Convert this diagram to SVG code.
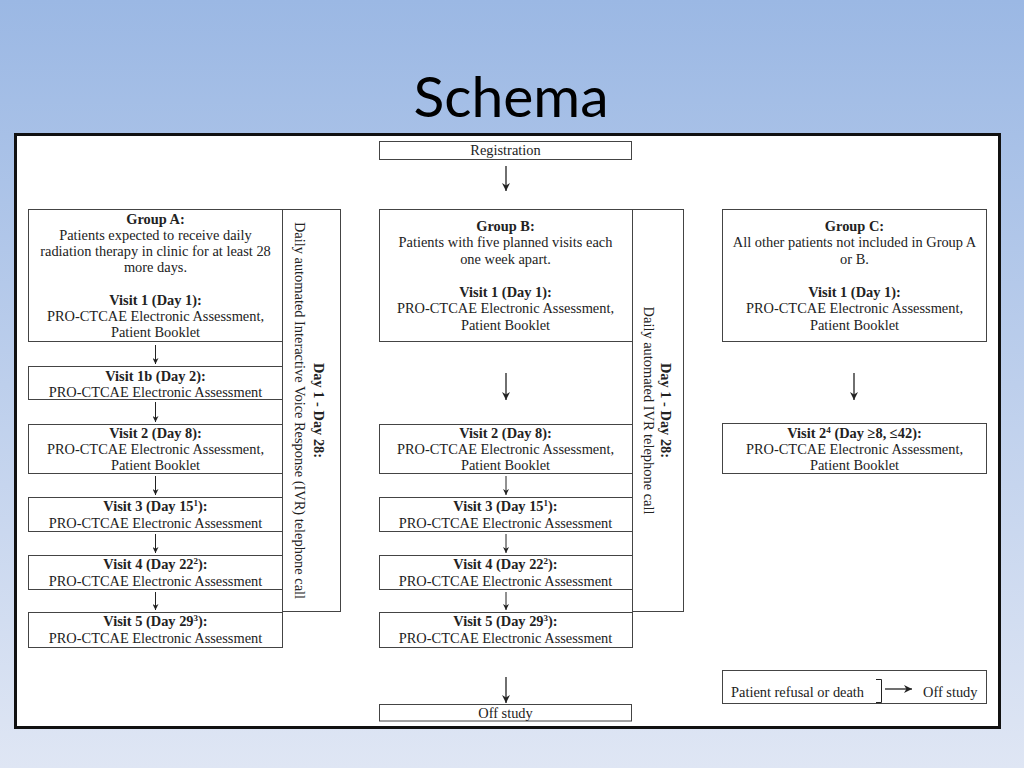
<svg xmlns="http://www.w3.org/2000/svg" width="1024" height="768" viewBox="0 0 1024 768">
<defs>
<linearGradient id="bg" x1="0" y1="0" x2="0" y2="1">
<stop offset="0" stop-color="#9bb8e4"/>
<stop offset="1" stop-color="#dfe6f4"/>
</linearGradient>
<marker id="ahs" viewBox="0 0 10 10" refX="10" refY="5" markerWidth="7" markerHeight="6" orient="auto" markerUnits="userSpaceOnUse">
<path d="M0,0 L10,5 L0,10 L3,5 z" fill="#222"/>
</marker>
<marker id="ahb" viewBox="0 0 10 10" refX="10" refY="5" markerWidth="10" markerHeight="8" orient="auto" markerUnits="userSpaceOnUse">
<path d="M0,0 L10,5 L0,10 L3,5 z" fill="#222"/>
</marker>
<style>
.box{fill:#fff;stroke:#444;stroke-width:1}
.t{font-family:"Liberation Serif","Times New Roman",serif;font-size:14.4px;fill:#222;text-anchor:middle}
.b{font-weight:bold}
.s{font-size:9px}
.ln{stroke:#222;stroke-width:1;fill:none}
.lb{stroke:#222;stroke-width:1.3;fill:none}
</style>
</defs>
<rect x="0" y="0" width="1024" height="768" fill="url(#bg)"/>
<text x="511" y="117" font-family="Lato, 'Open Sans', sans-serif" font-size="57" fill="#000" text-anchor="middle">Schema</text>
<rect x="15.5" y="134.5" width="984" height="593" fill="#fff" stroke="#111" stroke-width="3"/>

<g id="registration">
<rect class="box" x="379.5" y="141.5" width="252" height="18"/>
<text class="t" x="505.5" y="155">Registration</text>
</g>

<g id="groupA">
<rect class="box" x="28.5" y="209.5" width="254" height="132"/>
<text class="t b" x="155.5" y="224">Group A:</text>
<text class="t" x="155.5" y="239.5">Patients expected to receive daily</text>
<text class="t" x="155.5" y="255.5">radiation therapy in clinic for at least 28</text>
<text class="t" x="155.5" y="271.5">more days.</text>
<text class="t b" x="155.5" y="304.5">Visit 1 (Day 1):</text>
<text class="t" x="155.5" y="321">PRO-CTCAE Electronic Assessment,</text>
<text class="t" x="155.5" y="337">Patient Booklet</text>
</g>
<g id="ivrA">
<rect class="box" x="282.5" y="209.5" width="58" height="402"/>
<text class="t b" transform="translate(314,410.5) rotate(90)">Day 1 - Day 28:</text>
<text class="t" transform="translate(295,410.5) rotate(90)">Daily automated Interactive Voice Response (IVR) telephone call</text>
</g>
<g id="a1b">
<rect class="box" x="28.5" y="366.5" width="254" height="33"/>
<text class="t b" x="155.5" y="380.5">Visit 1b (Day 2):</text>
<text class="t" x="155.5" y="396.5">PRO-CTCAE Electronic Assessment</text>
</g>
<g id="a2">
<rect class="box" x="28.5" y="424.5" width="254" height="49"/>
<text class="t b" x="155.5" y="437.5">Visit 2 (Day 8):</text>
<text class="t" x="155.5" y="453.5">PRO-CTCAE Electronic Assessment,</text>
<text class="t" x="155.5" y="469.5">Patient Booklet</text>
</g>
<g id="a3">
<rect class="box" x="28.5" y="497.5" width="254" height="34"/>
<text class="t b" x="155.5" y="511">Visit 3 (Day 15<tspan class="s" dy="-5">1</tspan><tspan dy="5">):</tspan></text>
<text class="t" x="155.5" y="527.5">PRO-CTCAE Electronic Assessment</text>
</g>
<g id="a4">
<rect class="box" x="28.5" y="555.5" width="254" height="34"/>
<text class="t b" x="155.5" y="569">Visit 4 (Day 22<tspan class="s" dy="-5">2</tspan><tspan dy="5">):</tspan></text>
<text class="t" x="155.5" y="585.5">PRO-CTCAE Electronic Assessment</text>
</g>
<g id="a5">
<rect class="box" x="28.5" y="612.5" width="254" height="35"/>
<text class="t b" x="155.5" y="626">Visit 5 (Day 29<tspan class="s" dy="-5">3</tspan><tspan dy="5">):</tspan></text>
<text class="t" x="155.5" y="642.5">PRO-CTCAE Electronic Assessment</text>
</g>

<g id="groupB">
<rect class="box" x="379.5" y="209.5" width="253" height="132"/>
<text class="t b" x="505.5" y="230.5">Group B:</text>
<text class="t" x="505.5" y="247">Patients with five planned visits each</text>
<text class="t" x="505.5" y="263.5">one week apart.</text>
<text class="t b" x="505.5" y="296.5">Visit 1 (Day 1):</text>
<text class="t" x="505.5" y="313">PRO-CTCAE Electronic Assessment,</text>
<text class="t" x="505.5" y="329.5">Patient Booklet</text>
</g>
<g id="ivrB">
<rect class="box" x="632.5" y="209.5" width="51" height="402"/>
<text class="t b" transform="translate(661,410.5) rotate(90)">Day 1 - Day 28:</text>
<text class="t" transform="translate(644,410.5) rotate(90)">Daily automated IVR telephone call</text>
</g>
<g id="b2">
<rect class="box" x="379.5" y="424.5" width="253" height="49"/>
<text class="t b" x="505.5" y="437.5">Visit 2 (Day 8):</text>
<text class="t" x="505.5" y="453.5">PRO-CTCAE Electronic Assessment,</text>
<text class="t" x="505.5" y="469.5">Patient Booklet</text>
</g>
<g id="b3">
<rect class="box" x="379.5" y="497.5" width="253" height="34"/>
<text class="t b" x="505.5" y="511">Visit 3 (Day 15<tspan class="s" dy="-5">1</tspan><tspan dy="5">):</tspan></text>
<text class="t" x="505.5" y="527.5">PRO-CTCAE Electronic Assessment</text>
</g>
<g id="b4">
<rect class="box" x="379.5" y="555.5" width="253" height="34"/>
<text class="t b" x="505.5" y="569">Visit 4 (Day 22<tspan class="s" dy="-5">2</tspan><tspan dy="5">):</tspan></text>
<text class="t" x="505.5" y="585.5">PRO-CTCAE Electronic Assessment</text>
</g>
<g id="b5">
<rect class="box" x="379.5" y="612.5" width="253" height="35"/>
<text class="t b" x="505.5" y="626">Visit 5 (Day 29<tspan class="s" dy="-5">3</tspan><tspan dy="5">):</tspan></text>
<text class="t" x="505.5" y="642.5">PRO-CTCAE Electronic Assessment</text>
</g>
<g id="offstudy">
<rect class="box" x="379.5" y="704.5" width="252" height="16.5"/>
<text class="t" x="505.5" y="717.5">Off study</text>
</g>

<g id="groupC">
<rect class="box" x="722.5" y="209.5" width="264" height="132"/>
<text class="t b" x="854.5" y="230.5">Group C:</text>
<text class="t" x="854.5" y="247">All other patients not included in Group A</text>
<text class="t" x="854.5" y="263.5">or B.</text>
<text class="t b" x="854.5" y="296.5">Visit 1 (Day 1):</text>
<text class="t" x="854.5" y="313">PRO-CTCAE Electronic Assessment,</text>
<text class="t" x="854.5" y="329.5">Patient Booklet</text>
</g>
<g id="c2">
<rect class="box" x="722.5" y="423.5" width="264" height="50"/>
<text class="t b" x="854.5" y="437.5">Visit 2<tspan class="s" dy="-5">4</tspan><tspan dy="5"> (Day ≥8, ≤42):</tspan></text>
<text class="t" x="854.5" y="453.5">PRO-CTCAE Electronic Assessment,</text>
<text class="t" x="854.5" y="469.5">Patient Booklet</text>
</g>
<g id="legend">
<rect class="box" x="722.5" y="670.5" width="264" height="33"/>
<text class="t" x="731" y="697" style="text-anchor:start">Patient refusal or death</text>
<path class="ln" d="M876,679.5 H881.5 V702.5 H876" stroke-width="1.4"/>
<text class="t" x="923" y="697" style="text-anchor:start">Off study</text>
</g>

<g id="connectors">
<line class="lb" x1="506" y1="166" x2="506" y2="191" marker-end="url(#ahb)"/>
<line class="ln" x1="155.5" y1="345" x2="155.5" y2="364" marker-end="url(#ahs)"/>
<line class="ln" x1="155.5" y1="402" x2="155.5" y2="422" marker-end="url(#ahs)"/>
<line class="ln" x1="155.5" y1="476" x2="155.5" y2="495" marker-end="url(#ahs)"/>
<line class="ln" x1="155.5" y1="534" x2="155.5" y2="553" marker-end="url(#ahs)"/>
<line class="ln" x1="155.5" y1="592" x2="155.5" y2="610" marker-end="url(#ahs)"/>
<line class="lb" x1="506" y1="373" x2="506" y2="400" marker-end="url(#ahb)"/>
<line class="ln" x1="506" y1="476" x2="506" y2="495" marker-end="url(#ahs)"/>
<line class="ln" x1="506" y1="534" x2="506" y2="553" marker-end="url(#ahs)"/>
<line class="ln" x1="506" y1="592" x2="506" y2="610" marker-end="url(#ahs)"/>
<line class="lb" x1="506" y1="677" x2="506" y2="703" marker-end="url(#ahb)"/>
<line class="lb" x1="854" y1="373" x2="854" y2="400" marker-end="url(#ahb)"/>
<line class="lb" x1="885" y1="689" x2="912" y2="689" marker-end="url(#ahb)"/>
</g>
</svg>
